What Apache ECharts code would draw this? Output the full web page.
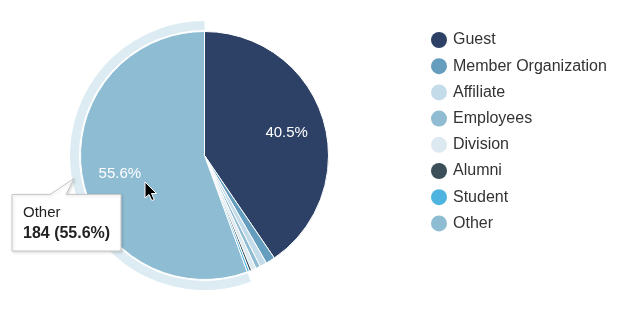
<!DOCTYPE html>
<html><head><meta charset="utf-8">
<script src="https://cdn.jsdelivr.net/npm/echarts@6/dist/echarts.min.js"></script>
<style>html,body{margin:0;padding:0;background:#fff}#c{width:633px;height:312px}</style>
</head><body><div id="c"></div>
<script>
const categories = ['Guest', 'Member Organization', 'Affiliate', 'Employees', 'Division', 'Alumni', 'Student', 'Other'];
const values = [134, 4, 3, 2, 2, 1, 1, 184];
const colors = ['#2d4166', '#659dbf', '#c4dcea', '#8fbcd3', '#dce9f1', '#3a4f58', '#4db3df', '#8ebcd3'];
const labeledNames = ['Guest', 'Other'];
const hoveredName = 'Other';

const FONT = '"Liberation Sans", Arial, Helvetica, sans-serif';
const CENTER = [204.5, 155.5];
const R = 124;

const total = values.reduce((a, b) => a + b, 0);
const hIdx = categories.indexOf(hoveredName);
const hPct = (values[hIdx] / total * 100).toFixed(1);

const mainData = categories.map((n, i) => ({ name: n, value: values[i], itemStyle: { color: colors[i] } }));
const haloData = categories.map((n, i) => ({
  name: n, value: values[i],
  itemStyle: { color: n === hoveredName ? 'rgba(142,188,211,0.3)' : 'rgba(0,0,0,0)' }
}));
const labelData = categories.map((n, i) => ({ name: n, value: values[i], itemStyle: { color: 'rgba(0,0,0,0)' } }));

const chart = echarts.init(document.getElementById('c'), null, { renderer: 'canvas' });
chart.setOption({
  animation: false,
  backgroundColor: '#fff',
  legend: {
    orient: 'vertical', left: 431, top: 32, padding: 0,
    icon: 'circle', itemWidth: 16, itemHeight: 16, itemGap: 10.2,
    selectedMode: false,
    itemStyle: { borderWidth: 0 },
    data: categories,
    textStyle: { fontSize: 16, lineHeight: 16, fontFamily: FONT, color: '#333', padding: [0, 0, 0, 1] }
  },
  series: [
    {
      type: 'pie', name: 'main', center: CENTER, radius: [0, R],
      startAngle: 90, clockwise: true, silent: true,
      label: { show: false }, labelLine: { show: false },
      itemStyle: { borderColor: '#fff', borderWidth: 1 },
      emphasis: { disabled: true },
      data: mainData
    },
    {
      type: 'pie', name: 'halo', center: CENTER, radius: [R + 1.5, R + 10.5],
      startAngle: 90, clockwise: true, silent: true,
      label: { show: false }, labelLine: { show: false },
      itemStyle: { borderWidth: 0 },
      emphasis: { disabled: true },
      data: haloData
    },
    {
      type: 'pie', name: 'labels', center: CENTER, radius: [0, 166],
      startAngle: 90, clockwise: true, silent: true, percentPrecision: 1,
      labelLine: { show: false },
      itemStyle: { borderWidth: 0 },
      emphasis: { disabled: true },
      labelLayout: { dy: 3 },
      label: {
        show: true, position: 'inside', color: '#fff', fontSize: 15, fontFamily: FONT,
        formatter: p => labeledNames.includes(p.name) ? p.percent.toFixed(1) + '%' : ''
      },
      data: labelData
    }
  ],
  graphic: [
    {
      type: 'polygon', z: 100,
      shape: { points: [[12, 194.5], [50, 194.5], [74, 178.5], [66, 194.5], [121, 194.5], [121, 251], [12, 251]] },
      style: { fill: '#fff', stroke: '#c8c8c8', lineWidth: 1, shadowBlur: 3, shadowOffsetX: 1, shadowOffsetY: 1, shadowColor: 'rgba(0,0,0,0.15)' }
    },
    {
      type: 'text', z: 101, x: 23, y: 213,
      style: { text: hoveredName, font: '15px ' + FONT, fill: '#222', verticalAlign: 'middle' }
    },
    {
      type: 'text', z: 101, x: 23, y: 234,
      style: { text: values[hIdx] + ' (' + hPct + '%)', font: 'bold 16px ' + FONT, fill: '#222', verticalAlign: 'middle' }
    },
    {
      type: 'polygon', z: 102, x: 145, y: 182,
      shape: { points: [[0, 0], [0, 16], [4, 12.5], [6.8, 18.5], [9.2, 17.5], [6.5, 11.5], [11.5, 11.5]] },
      style: { fill: '#000', stroke: '#fff', lineWidth: 1 }
    }
  ]
});
</script>
</body></html>
